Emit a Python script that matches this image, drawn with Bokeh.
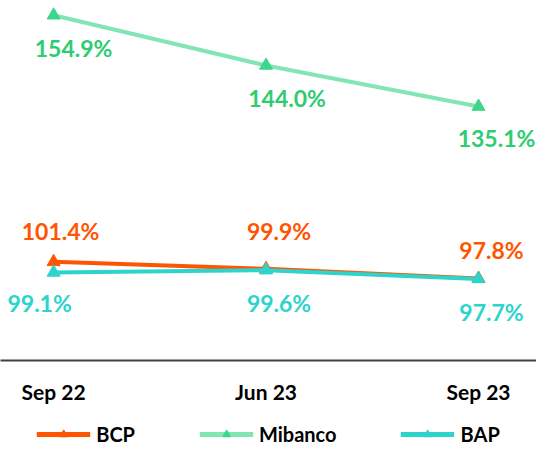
from bokeh.plotting import figure
from bokeh.models import ColumnDataSource, FixedTicker, Range1d, Legend, LegendItem
from bokeh.layouts import column
from bokeh.core.properties import value
from bokeh.embed import file_html
from bokeh.resources import INLINE

categories = ["Sep 22", "Jun 23", "Sep 23"]
series_names = ["BCP", "Mibanco", "BAP"]
bcp = [101.4, 99.9, 97.8]
mibanco = [154.9, 144.0, 135.1]
bap = [99.1, 99.6, 97.7]

# styling (pixel offsets of the value labels)
line_colors = {"BCP": "#FF5500", "Mibanco": "#82E6B4", "BAP": "#2DD4CB"}
marker_colors = {"BCP": "#FF5500", "Mibanco": "#3DD68C", "BAP": "#2DD4CB"}
label_colors = {"BCP": "#FF5500", "Mibanco": "#2ECC71", "BAP": "#2DD4CB"}
label_dx = {"BCP": [7, 13, 13], "Mibanco": [20, 21, 18], "BAP": [-14, 13, 13]}
label_dy = {"BCP": [-31, -38, -28], "Mibanco": [33, 33, 31], "BAP": [31, 33, 33]}

FONT = "Lato"

xs = list(range(len(categories)))

p = figure(frame_width=536, frame_height=360, output_backend="svg", toolbar_location=None,
           x_range=Range1d(-0.25, 2.273), y_range=Range1d(80, 158.1),
           min_border_left=0, min_border_right=0, min_border_top=0, min_border_bottom=0)
p.outline_line_color = None
p.xgrid.visible = False
p.ygrid.visible = False
p.yaxis.visible = False
p.background_fill_color = "white"
p.border_fill_color = "white"

ax = p.xaxis[0]
ax.ticker = FixedTicker(ticks=xs)
ax.major_label_overrides = {i: c for i, c in enumerate(categories)}
ax.major_tick_line_color = None
ax.minor_tick_line_color = None
ax.axis_line_color = "#404040"
ax.axis_line_width = 2
ax.major_label_standoff = 12
ax.major_label_text_font = FONT
ax.major_label_text_font_style = "bold"
ax.major_label_text_font_size = "21px"
ax.major_label_text_color = "#000000"

# separate strip that carries the legend below the axis
lg = figure(width=536, height=40, output_backend="svg", toolbar_location=None,
            x_range=Range1d(10, 11), y_range=Range1d(0, 1),
            min_border_left=0, min_border_right=0, min_border_top=0, min_border_bottom=0)
lg.outline_line_color = None
lg.axis.visible = False
lg.grid.visible = False
lg.border_fill_color = "white"

data = {"BCP": bcp, "Mibanco": mibanco, "BAP": bap}
items = {}
for name in ["Mibanco", "BCP", "BAP"]:
    vals = data[name]
    src = ColumnDataSource(dict(x=xs, y=vals,
                                txt=[f"{v:.1f}%" for v in vals],
                                dx=label_dx[name], dy=label_dy[name]))
    p.line("x", "y", source=src, line_color=line_colors[name], line_width=4)
    p.scatter("x", "y", source=src, marker="triangle", size=13,
              fill_color=marker_colors[name], line_color=marker_colors[name])
    p.text("x", "y", text="txt", source=src, x_offset="dx", y_offset="dy",
           text_align="center", text_baseline="middle",
           text_font=value(FONT), text_font_style="bold", text_font_size="23px",
           text_color=label_colors[name])
    # same series, drawn out of view in the legend strip, for the legend entries
    r1 = lg.line("x", "y", source=src, line_color=line_colors[name], line_width=5)
    r2 = lg.scatter("x", "y", source=src, marker="triangle", size=12,
                    fill_color=marker_colors[name], line_color=marker_colors[name])
    items[name] = [r1, r2]

legend = Legend(items=[LegendItem(label=n, renderers=items[n]) for n in series_names],
                orientation="horizontal", location="bottom_center",
                label_text_font=FONT, label_text_font_style="bold",
                label_text_font_size="20px", label_text_color="#000000",
                glyph_width=54, glyph_height=20, spacing=64, label_standoff=6,
                border_line_color=None, background_fill_alpha=0,
                padding=2, margin=0)
lg.add_layout(legend)

layout = column(p, lg, spacing=0)
open("out.html", "w").write(file_html(layout, INLINE))
